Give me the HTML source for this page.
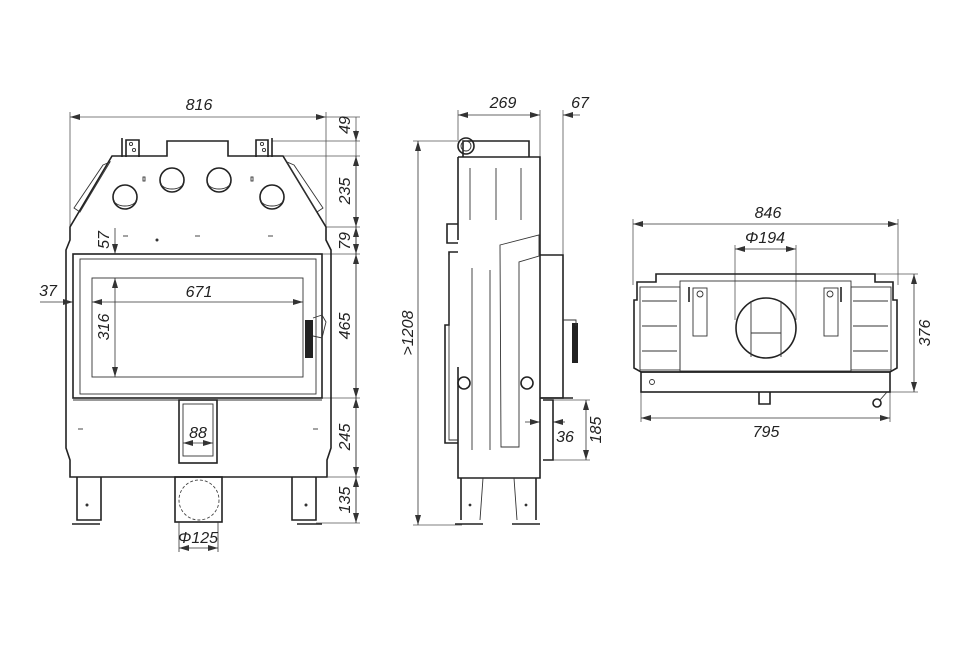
<!DOCTYPE html>
<html><head><meta charset="utf-8"><style>
html,body{margin:0;padding:0;background:#fff;}
svg{display:block}
text{font-family:"Liberation Sans",sans-serif;font-style:italic;font-size:16px;fill:#222;}
.o{fill:none;stroke:#222;stroke-width:1.6}
.t{fill:none;stroke:#333;stroke-width:0.9}
.d{fill:none;stroke:#555;stroke-width:0.8}
</style></head><body>
<svg width="970" height="647" viewBox="0 0 970 647" xmlns="http://www.w3.org/2000/svg">
<defs>
<marker id="a" viewBox="0 0 10 6" refX="10" refY="3" markerWidth="10" markerHeight="6" orient="auto-start-reverse" markerUnits="userSpaceOnUse"><path d="M0,0L10,3L0,6z" fill="#333"/></marker>
</defs>

<g>
<line class="d" x1="70" y1="117" x2="326" y2="117" marker-start="url(#a)" marker-end="url(#a)"/>
<line class="d" x1="70" y1="112" x2="70" y2="240"/>
<line class="d" x1="326" y1="112" x2="326" y2="230"/>
<text x="199" y="110" text-anchor="middle">816</text>
<line class="d" x1="356" y1="117" x2="356" y2="523"/>
<g class="d">
<line x1="326" y1="117" x2="360" y2="117"/>
<line x1="272" y1="141" x2="360" y2="141"/>
<line x1="283" y1="156" x2="360" y2="156"/>
<line x1="326" y1="227" x2="360" y2="227"/>
<line x1="322" y1="254" x2="360" y2="254"/>
<line x1="322" y1="398" x2="360" y2="398"/>
<line x1="328" y1="477" x2="360" y2="477"/>
<line x1="316" y1="523" x2="360" y2="523"/>
</g>
<g stroke="#333" stroke-width="0.8">
<line x1="356" y1="130" x2="356" y2="141" marker-end="url(#a)"/>
<line x1="356" y1="156" x2="356" y2="227" marker-start="url(#a)" marker-end="url(#a)"/>
<line x1="356" y1="227" x2="356" y2="254" marker-start="url(#a)" marker-end="url(#a)"/>
<line x1="356" y1="254" x2="356" y2="398" marker-start="url(#a)" marker-end="url(#a)"/>
<line x1="356" y1="398" x2="356" y2="477" marker-start="url(#a)" marker-end="url(#a)"/>
<line x1="356" y1="477" x2="356" y2="523" marker-start="url(#a)" marker-end="url(#a)"/>
</g>
<text transform="translate(350,125) rotate(-90)" text-anchor="middle">49</text>
<text transform="translate(350,191) rotate(-90)" text-anchor="middle">235</text>
<text transform="translate(350,241) rotate(-90)" text-anchor="middle">79</text>
<text transform="translate(350,326) rotate(-90)" text-anchor="middle">465</text>
<text transform="translate(350,437) rotate(-90)" text-anchor="middle">245</text>
<text transform="translate(350,500) rotate(-90)" text-anchor="middle">135</text>

<path class="o" d="M112,156 L167,156 L167,141 L228,141 L228,156 L283,156 L326,227 L326,240 L331,250 L331,448 L327,460 L327,477 L70,477 L70,460 L66,448 L66,250 L70,240 L70,227 Z"/>
<path class="t" d="M103,165 L110,162 L80,212 L74,208 Z"/>
<path class="t" d="M294,165 L287,162 L317,212 L323,208 Z"/>
<path class="o" d="M122,157 L122,138 M126,157 L126,140 L139,140 L139,157"/>
<path class="o" d="M272,157 L272,138 M268,157 L268,140 L256,140 L256,157"/>
<circle cx="131" cy="144" r="1.6" class="t"/><circle cx="134" cy="150" r="1.6" class="t"/>
<circle cx="262" cy="144" r="1.6" class="t"/><circle cx="264" cy="150" r="1.6" class="t"/>
<g class="o">
<circle cx="125" cy="197" r="12"/><circle cx="172" cy="180" r="12"/>
<circle cx="219" cy="180" r="12"/><circle cx="272" cy="197" r="12"/>
</g>
<g class="t">
<path d="M114,200 A11,6 0 0 0 136,200"/><path d="M161,183 A11,6 0 0 0 183,183"/>
<path d="M208,183 A11,6 0 0 0 230,183"/><path d="M261,200 A11,6 0 0 0 283,200"/>
<rect x="143" y="177" width="2" height="4"/><rect x="251" y="177" width="2" height="4"/>
<line x1="123" y1="236" x2="128" y2="236"/><line x1="195" y1="236" x2="200" y2="236"/><line x1="268" y1="236" x2="273" y2="236"/>
<line x1="78" y1="429" x2="83" y2="429"/><line x1="313" y1="429" x2="318" y2="429"/>
</g>
<circle cx="157" cy="240" r="1.5" fill="#333"/>
<rect class="o" x="73" y="254" width="249" height="144"/>
<rect class="t" x="80" y="259" width="236" height="135"/>
<rect class="t" x="92" y="278" width="211" height="99"/>
<rect x="305" y="320" width="8" height="38" fill="#222"/>
<path class="t" d="M313,318 L322,315 L326,322 L322,338 L313,336"/>
<line class="t" x1="73" y1="400" x2="322" y2="400"/>
<rect class="o" x="179" y="400" width="38" height="63"/>
<rect class="t" x="183" y="404" width="30" height="52"/>
<path class="o" d="M77,477 L77,520 L101,520 L101,477"/>
<path class="o" d="M72,524 L100,524"/>
<path class="o" d="M292,477 L292,520 L316,520 L316,477"/>
<path class="o" d="M297,524 L322,524"/>
<circle cx="87" cy="505" r="1.5" fill="#333"/><circle cx="306" cy="505" r="1.5" fill="#333"/>
<rect class="o" x="175" y="477" width="47" height="45"/>
<circle cx="199" cy="500" r="20" fill="none" stroke="#444" stroke-width="0.9" stroke-dasharray="3,2"/>
<g stroke="#333" stroke-width="0.8">
<line x1="115" y1="228" x2="115" y2="254" marker-end="url(#a)"/>
<line x1="115" y1="278" x2="115" y2="377" marker-start="url(#a)" marker-end="url(#a)"/>
<line x1="92" y1="302" x2="303" y2="302" marker-start="url(#a)" marker-end="url(#a)"/>
<line x1="40" y1="302" x2="73" y2="302" marker-end="url(#a)"/>
<line x1="183" y1="443" x2="213" y2="443" marker-start="url(#a)" marker-end="url(#a)"/>
<line x1="179" y1="548" x2="218" y2="548" marker-start="url(#a)" marker-end="url(#a)"/>
<line x1="179" y1="522" x2="179" y2="552"/><line x1="218" y1="522" x2="218" y2="552"/>
</g>
<text transform="translate(109,240) rotate(-90)" text-anchor="middle">57</text>
<text transform="translate(109,327) rotate(-90)" text-anchor="middle">316</text>
<text x="199" y="297" text-anchor="middle">671</text>
<text x="48" y="296" text-anchor="middle">37</text>
<text x="198" y="438" text-anchor="middle">88</text>
<text x="198" y="543" text-anchor="middle">Φ125</text>
</g>

<g>
<g class="d">
<line x1="458" y1="110" x2="458" y2="140"/>
<line x1="540" y1="110" x2="540" y2="157"/>
<line x1="563" y1="110" x2="563" y2="255"/>
<line x1="413" y1="141" x2="460" y2="141"/>
<line x1="413" y1="525" x2="462" y2="525"/>
<line x1="545" y1="400" x2="590" y2="400"/>
<line x1="545" y1="460" x2="590" y2="460"/>
</g>
<g stroke="#333" stroke-width="0.8">
<line x1="458" y1="115" x2="540" y2="115" marker-start="url(#a)" marker-end="url(#a)"/>
<line x1="580" y1="115" x2="563" y2="115" marker-end="url(#a)"/>
<line x1="418" y1="141" x2="418" y2="525" marker-start="url(#a)" marker-end="url(#a)"/>
<line x1="586" y1="400" x2="586" y2="460" marker-start="url(#a)" marker-end="url(#a)"/>
<line x1="525" y1="422" x2="540" y2="422" marker-end="url(#a)"/>
<line x1="565" y1="422" x2="553" y2="422" marker-end="url(#a)"/>
</g>
<text x="503" y="108" text-anchor="middle">269</text>
<text x="580" y="108" text-anchor="middle">67</text>
<text transform="translate(413,333) rotate(-90)" text-anchor="middle">&gt;1208</text>
<text transform="translate(601,430) rotate(-90)" text-anchor="middle">185</text>
<text x="565" y="442" text-anchor="middle">36</text>

<path class="o" d="M458,157 L540,157 L540,478 L458,478 L458,367 M458,157 L458,240"/>
<path class="o" d="M463,157 L463,141 L529,141 L529,157"/>
<circle class="o" cx="466" cy="146" r="8"/>
<circle class="t" cx="466" cy="146" r="5"/>
<path class="o" d="M458,224 L447,224 L447,243 L458,243"/>
<path class="o" d="M458,252 L449,252 L449,325 L445,325 L445,443 L458,443"/>
<path class="t" d="M449,255 L449,440 L458,440"/>
<path class="o" d="M540,255 L563,255 L563,398 L540,398"/>
<rect x="572" y="323" width="6" height="40" fill="#222"/>
<path class="t" d="M563,320 L576,320 L576,326"/>
<path class="o" d="M540,398 L573,398 M543,400 L553,400 L553,460 L543,460"/>
<g class="t">
<line x1="470" y1="168" x2="470" y2="220"/><line x1="496" y1="168" x2="496" y2="220"/><line x1="521" y1="168" x2="521" y2="220"/>
<line x1="472" y1="268" x2="472" y2="450"/><line x1="490" y1="270" x2="490" y2="450"/>
<path d="M500,245 L539,235 L539,256 L519,262 L519,447 L501,447 Z"/>
</g>
<circle class="o" cx="464" cy="383" r="6"/><circle class="o" cx="527" cy="383" r="6"/>
<path class="o" d="M461,478 L461,520 M536,478 L536,520"/>
<path class="t" d="M483,478 L480,520 M514,478 L517,520"/>
<path class="o" d="M455,524 L483,524 M512,524 L540,524"/>
<circle cx="470" cy="505" r="1.4" fill="#333"/><circle cx="526" cy="505" r="1.4" fill="#333"/>
</g>

<g>
<g class="d">
<line x1="633" y1="219" x2="633" y2="285"/>
<line x1="898" y1="219" x2="898" y2="285"/>
<line x1="735" y1="245" x2="735" y2="320"/>
<line x1="796" y1="245" x2="796" y2="320"/>
<line x1="875" y1="274" x2="918" y2="274"/>
<line x1="885" y1="392" x2="918" y2="392"/>
<line x1="641" y1="392" x2="641" y2="422"/>
<line x1="890" y1="392" x2="890" y2="422"/>
</g>
<g stroke="#333" stroke-width="0.8">
<line x1="633" y1="224" x2="898" y2="224" marker-start="url(#a)" marker-end="url(#a)"/>
<line x1="735" y1="249" x2="796" y2="249" marker-start="url(#a)" marker-end="url(#a)"/>
<line x1="914" y1="274" x2="914" y2="392" marker-start="url(#a)" marker-end="url(#a)"/>
<line x1="641" y1="418" x2="890" y2="418" marker-start="url(#a)" marker-end="url(#a)"/>
</g>
<text x="768" y="218" text-anchor="middle">846</text>
<text x="765" y="243" text-anchor="middle">Φ194</text>
<text transform="translate(930,333) rotate(-90)" text-anchor="middle">376</text>
<text x="766" y="437" text-anchor="middle">795</text>

<path class="o" d="M656,282 L656,274 L875,274 L875,282 L893,282 L893,300 L897,300 L897,368 L890,372 L641,372 L634,368 L634,300 L637,300 L637,282 Z"/>
<rect class="t" x="640" y="287" width="40" height="83"/>
<rect class="t" x="851" y="287" width="40" height="83"/>
<g class="t">
<line x1="642" y1="301" x2="677" y2="301"/><line x1="642" y1="326" x2="677" y2="326"/><line x1="642" y1="351" x2="677" y2="351"/>
<line x1="853" y1="301" x2="888" y2="301"/><line x1="853" y1="326" x2="888" y2="326"/><line x1="853" y1="351" x2="888" y2="351"/>
</g>
<rect class="t" x="680" y="281" width="171" height="90"/>
<rect class="t" x="693" y="288" width="14" height="48"/>
<rect class="t" x="824" y="288" width="14" height="48"/>
<circle class="t" cx="700" cy="294" r="3"/><circle class="t" cx="830" cy="294" r="3"/>
<line class="o" x1="689" y1="287" x2="689" y2="302"/><line class="o" x1="841" y1="287" x2="841" y2="302"/>
<circle class="o" cx="766" cy="328" r="30"/>
<path class="t" d="M751,301 L751,357 M781,301 L781,357 M751,333 L781,333"/>
<rect class="o" x="641" y="372" width="249" height="20"/>
<path class="o" d="M759,392 L759,404 L770,404 L770,392"/>
<circle class="o" cx="877" cy="403" r="4"/>
<path class="t" d="M880,400 L887,392"/>
<circle class="t" cx="652" cy="382" r="2.5"/>
</g>
</svg>
</body></html>
